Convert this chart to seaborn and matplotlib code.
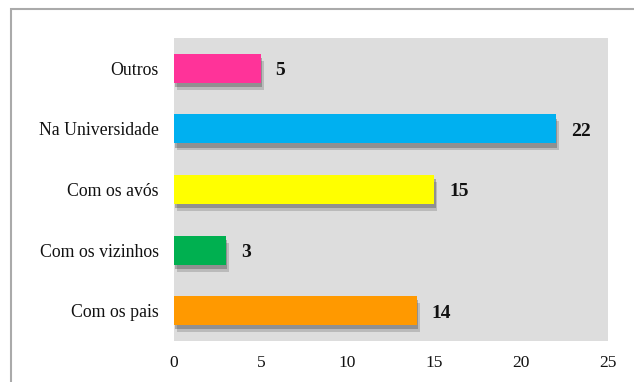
import matplotlib
matplotlib.use("Agg")
import matplotlib.pyplot as plt
import matplotlib.patheffects as pe
from matplotlib.patches import Rectangle
import seaborn as sns
import pandas as pd

categories = ["Outros", "Na Universidade", "Com os avós", "Com os vizinhos", "Com os pais"]
values = [5, 22, 15, 3, 14]
colors = ["#ff3399", "#00b0f0", "#ffff00", "#00b050", "#ff9900"]
xticks = [0, 5, 10, 15, 20, 25]

sns.set_theme(style="white")
plt.rcParams["font.family"] = ["Liberation Serif", "DejaVu Serif"]

df = pd.DataFrame({"cat": categories, "val": values})

fig = plt.figure(figsize=(6.34, 3.82), dpi=100)
fig.patches.append(Rectangle((11 / 634, -0.1), 1.2, 1 - 9 / 382 + 0.1,
                             transform=fig.transFigure, fill=False,
                             edgecolor="#aaaaaa", linewidth=1.5, zorder=0))
ax = fig.add_axes([174 / 634, 1 - 341 / 382, (608 - 174) / 634, (341 - 38) / 382])
ax.set_facecolor("#dddddd")

sns.barplot(data=df, x="val", y="cat", hue="cat", palette=colors, legend=False,
            orient="h", width=0.48, ax=ax, saturation=1, linewidth=0)
for p in ax.patches:
    p.set_path_effects([
        pe.SimplePatchShadow(offset=(2, -5), shadow_rgbFace="#555555", alpha=0.25),
        pe.SimplePatchShadow(offset=(1, -3), shadow_rgbFace="#444444", alpha=0.35),
        pe.Normal()])

for i, v in enumerate(values):
    ax.text(v + 0.85, i + 0.04, str(v), va="center", ha="left", fontsize=14,
            fontweight="bold", color="#111111")

ax.set_xlim(0, 25)
ax.set_ylim(4.5, -0.5)
ax.set_xticks(xticks)
ax.set_xticklabels([str(t) for t in xticks])
ax.set_xlabel("")
ax.set_ylabel("")
ax.tick_params(axis="x", length=0, labelsize=12.5, colors="#111111", pad=10)
ax.tick_params(axis="y", length=0, labelsize=12.8, colors="#111111", pad=11)
for s in ax.spines.values():
    s.set_visible(False)

fig.savefig("out.png", dpi=100)
